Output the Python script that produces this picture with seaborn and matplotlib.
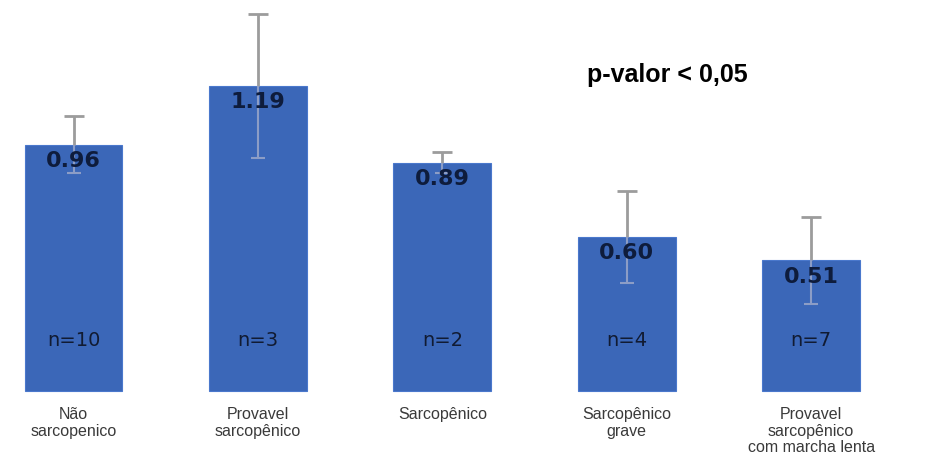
import matplotlib
matplotlib.use("Agg")
import matplotlib.pyplot as plt
import seaborn as sns

# Data
categories = ["Não\nsarcopenico", "Provavel\nsarcopênico", "Sarcopênico",
              "Sarcopênico\ngrave", "Provavel\nsarcopênico\ncom marcha lenta"]
means = [0.96, 1.19, 0.89, 0.60, 0.51]
errors = [0.11, 0.28, 0.04, 0.18, 0.17]
value_labels = ["0.96", "1.19", "0.89", "0.60", "0.51"]
n_labels = ["n=10", "n=3", "n=2", "n=4", "n=7"]

sns.set_style("white")
plt.rcParams["font.family"] = ["Liberation Sans", "DejaVu Sans"]

fig = plt.figure(figsize=(9.5, 4.71), dpi=100)
ax = fig.add_axes([0, 0, 1, 1])

xs = list(range(len(categories)))
sns.barplot(x=xs, y=means, color="#3b67b8", saturation=1, width=0.53,
            edgecolor="#4a78cc", linewidth=0.8, ax=ax, order=xs)

# error bars: upper part in grey, the part inside the bar looks paler
zeros = [0] * len(errors)
_, caps_up, _ = ax.errorbar(xs, means, yerr=[zeros, errors], fmt="none",
                            ecolor="#9c9c9c", elinewidth=2, capsize=7,
                            capthick=2, zorder=3)
caps_up[0].set_visible(False)
_, caps_lo, _ = ax.errorbar(xs, means, yerr=[errors, zeros], fmt="none",
                            ecolor="#8c9dc6", elinewidth=1.5, capsize=5,
                            capthick=1.5, zorder=3)
caps_lo[1].set_visible(False)

for x, m, lab, n, cat in zip(xs, means, value_labels, n_labels, categories):
    ax.text(x, m - 0.064, lab, ha="center", va="center", fontsize=16,
            fontweight="bold", color="#0e1c3c", family="DejaVu Sans", zorder=4)
    ax.text(x, 0.195, n, ha="center", va="center", fontsize=14,
            color="#111b32", family="DejaVu Sans", zorder=4)
    ax.text(x, -0.062, cat, ha="center", va="top", fontsize=11.5,
            color="#3a3a3a", linespacing=1.15)

ax.text(3.22, 1.232, "p-valor < 0,05", ha="center", va="center",
        fontsize=18, fontweight="bold", color="black")

ax.set_xlim(-0.399, 4.753)
ax.set_ylim(-0.312, 1.524)
ax.axis("off")

fig.savefig("out.png", dpi=100)
